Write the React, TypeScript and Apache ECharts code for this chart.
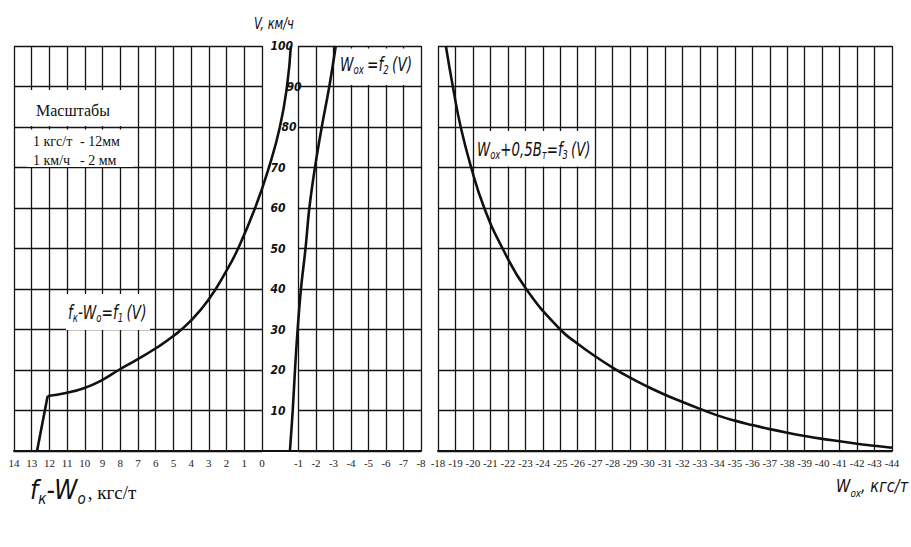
import React, { useEffect, useRef } from "react";
import * as echarts from "echarts";

// ---- data ----
// f_к − W_o = f1(V)  : [f_к − W_o (кгс/т), V (км/ч)]
const f1Steep: [number, number][] = [
  [12.7, 0],
  [12.1, 13.6],
];
const f1Curve: [number, number][] = [
  [12.1, 13.6], [11.07, 14.3], [10.06, 15.5], [9.16, 17.2], [8.09, 20.0],
  [7.08, 22.5], [6.13, 25.0], [5.06, 28.2], [4.1, 31.8], [3.04, 37.2],
  [2.02, 44.4], [1.35, 50], [0.39, 60], [-0.39, 70], [-1.01, 80],
  [-1.41, 90], [-1.63, 100],
];
// W_ox = f2(V)
const f2Line: [number, number][] = [
  [-0.51, 0], [-0.67, 10], [-0.8, 20], [-0.95, 30], [-1.14, 40], [-1.4, 50],
  [-1.62, 60], [-1.94, 70], [-2.33, 80], [-2.76, 90], [-3.13, 100],
];
// W_ox + 0,5 B_т = f3(V)
const f3Curve: [number, number][] = [
  [-18.45, 100], [-18.85, 90], [-19.3, 80], [-19.9, 70], [-20.65, 60],
  [-21.7, 50], [-23.05, 40], [-25, 30], [-26, 26.5], [-27, 23.4],
  [-28, 20.6], [-29, 18.1], [-30, 15.9], [-31, 13.9], [-32, 12.1],
  [-33, 10.4], [-34, 8.8], [-35, 7.5], [-36, 6.4], [-37, 5.4],
  [-38, 4.5], [-39, 3.7], [-40, 3.0], [-41, 2.4], [-42, 1.8],
  [-43, 1.3], [-44, 0.8],
];

// axis ranges
const leftRange = { min: 0, max: 14 };
const leftCurveRange = { min: -2, max: 14 };
const midRange = { min: -8, max: -1 };
const midCurveRange = { min: -8, max: 0 };
const rightRange = { min: -44, max: -18 };
const vRange = { min: 0, max: 100, step: 10 };

const SERIF = "'Liberation Serif', 'Times New Roman', serif";
const HAND = "'Liberation Sans Narrow', 'DejaVu Sans Condensed', 'Liberation Sans', sans-serif";
const INK = "#111";

const hand = (size: number) => ({
  m: { fontFamily: HAND, fontStyle: "italic", fontSize: size, lineHeight: size + 6, verticalAlign: "middle", fill: INK },
  s: { fontFamily: HAND, fontStyle: "italic", fontSize: Math.round(size * 0.62), lineHeight: Math.round(size * 0.62), verticalAlign: "bottom", fill: INK },
  g: { fontFamily: HAND, fontStyle: "italic", fontSize: size, lineHeight: size + 6, verticalAlign: "middle", fill: INK, padding: [0, 0, 0, 4] },
  r: { fontFamily: SERIF, fontSize: size - 1, lineHeight: size + 6, verticalAlign: "middle", fill: INK, padding: [0, 0, 0, 4] },
});

export default function App() {
  const ref = useRef<HTMLDivElement>(null);

  useEffect(() => {
    document.body.style.margin = "0";
    const chart = echarts.init(ref.current!, null, { renderer: "svg" });

    const gridLine = { show: true, lineStyle: { color: "#141414", width: 1.3 } };
    const xLabel = { fontFamily: SERIF, fontSize: 11, color: "#222", margin: 6 };
    const mkX = (gridIndex: number, r: { min: number; max: number }) => ({
      type: "value",
      gridIndex,
      min: r.min,
      max: r.max,
      interval: 1,
      inverse: true,
      axisLine: { show: true, lineStyle: { color: INK, width: 2 } },
      axisTick: { show: false },
      axisLabel: xLabel,
      splitLine: gridLine,
    });
    const mkHiddenX = (gridIndex: number, r: { min: number; max: number }) => ({
      type: "value",
      gridIndex,
      min: r.min,
      max: r.max,
      interval: 1,
      inverse: true,
      show: false,
      splitLine: { show: false },
    });
    const mkY = (gridIndex: number, labels: boolean, hidden = false) => ({
      type: "value",
      gridIndex,
      min: vRange.min,
      max: vRange.max,
      interval: vRange.step,
      show: !hidden,
      axisLine: { show: false },
      axisTick: { show: false },
      splitLine: hidden ? { show: false } : gridLine,
      axisLabel: labels
        ? {
            show: true,
            margin: 28,
            align: "left",
            formatter: (v: number) =>
              v === 0 ? "" : v === 90 ? `{a|${v}}` : v === 80 ? `{b|${v}}` : `{n|${v}}`,
            rich: {
              n: { fontFamily: HAND, fontStyle: "italic", fontWeight: "bold", fontSize: 12, color: INK },
              a: { fontFamily: HAND, fontStyle: "italic", fontWeight: "bold", fontSize: 12, color: INK, padding: [0, 0, 0, 16] },
              b: { fontFamily: HAND, fontStyle: "italic", fontWeight: "bold", fontSize: 12, color: INK, padding: [0, 0, 0, 11] },
            },
          }
        : { show: false },
    });

    const lineStyle = { color: INK, width: 2.6 };
    const base = { type: "line", symbol: "none", showSymbol: false, lineStyle, silent: true };

    const unitL = 248 / 14;
    const unitM = 122.5 / 7;

    chart.setOption({
      animation: false,
      backgroundColor: "#fff",
      grid: [
        { left: 14, top: 46, width: 248, height: 405 },
        { left: 298.5, top: 46, width: 122.5, height: 405 },
        { left: 438, top: 46, width: 454, height: 405 },
        // invisible grids that carry the curves crossing the panel edges
        { left: 14, top: 46, width: unitL * 16, height: 405 },
        { left: 298.5 - unitM, top: 46, width: unitM * 8, height: 405 },
      ],
      xAxis: [
        mkX(0, leftRange),
        mkX(1, midRange),
        mkX(2, rightRange),
        mkHiddenX(3, leftCurveRange),
        mkHiddenX(4, midCurveRange),
      ],
      yAxis: [mkY(0, false), mkY(1, true), mkY(2, false), mkY(3, false, true), mkY(4, false, true)],
      series: [
        { ...base, xAxisIndex: 3, yAxisIndex: 3, data: f1Steep },
        { ...base, xAxisIndex: 3, yAxisIndex: 3, data: f1Curve, smooth: 0.5 },
        { ...base, xAxisIndex: 4, yAxisIndex: 4, data: f2Line, smooth: 0.4 },
        { ...base, xAxisIndex: 2, yAxisIndex: 2, data: f3Curve, smooth: 0.5 },
      ],
      graphic: [
        // bottom line joining left and middle panels
        { type: "line", z: 5, shape: { x1: 262, y1: 451, x2: 298.5, y2: 451 }, style: { stroke: INK, lineWidth: 2 } },
        // V axis title
        {
          type: "text", x: 254, y: 24, z: 20, scaleX: 0.85,
          style: { text: "V, км/ч", fontFamily: HAND, fontStyle: "italic", fontSize: 15, fill: INK, align: "left", verticalAlign: "middle" },
        },
        // scale box
        { type: "rect", z: 10, shape: { x: 27, y: 90, width: 106, height: 36 }, style: { fill: "#fff" } },
        { type: "rect", z: 10, shape: { x: 27, y: 129.5, width: 106, height: 37.5 }, style: { fill: "#fff" } },
        { type: "text", x: 36, y: 110, z: 20, style: { text: "Масштабы", fontFamily: SERIF, fontSize: 16, fill: INK, verticalAlign: "middle" } },
        { type: "text", x: 33, y: 141, z: 20, style: { text: "1 кгс/т", fontFamily: SERIF, fontSize: 14, fill: INK, verticalAlign: "middle" } },
        { type: "text", x: 80, y: 141, z: 20, style: { text: "- 12мм", fontFamily: SERIF, fontSize: 14, fill: INK, verticalAlign: "middle" } },
        { type: "text", x: 33, y: 160, z: 20, style: { text: "1 км/ч", fontFamily: SERIF, fontSize: 14, fill: INK, verticalAlign: "middle" } },
        { type: "text", x: 80, y: 160, z: 20, style: { text: "- 2 мм", fontFamily: SERIF, fontSize: 14, fill: INK, verticalAlign: "middle" } },
        // f1 label
        { type: "rect", z: 10, shape: { x: 66, y: 294, width: 84, height: 36 }, style: { fill: "#fff" } },
        {
          type: "text", x: 68, y: 312, z: 20, scaleX: 0.8,
          style: { text: "{m|f}{s|к}{m|-W}{s|o}{m|=f}{s|1}{g|(V)}", rich: hand(19), verticalAlign: "middle" },
        },
        // f2 label
        { type: "rect", z: 10, shape: { x: 338, y: 48.5, width: 81.5, height: 36.5 }, style: { fill: "#fff" } },
        {
          type: "text", x: 340, y: 64, z: 20, scaleX: 0.8,
          style: { text: "{m|W}{s|ox}{g|=f}{s|2}{g|(V)}", rich: hand(19), verticalAlign: "middle" },
        },
        // f3 label
        { type: "rect", z: 10, shape: { x: 476, y: 131, width: 114, height: 35.5 }, style: { fill: "#fff" } },
        {
          type: "text", x: 477, y: 149, z: 20, scaleX: 0.78,
          style: { text: "{m|W}{s|ox}{m|+0,5B}{s|т}{m|=f}{s|3}{g|(V)}", rich: hand(19), verticalAlign: "middle" },
        },
        // axis titles
        {
          type: "text", x: 30, y: 490, z: 20,
          style: {
            text: "{m|f}{s|к}{m|-W}{s|o}{r|, кгс/т}",
            rich: {
              ...hand(26),
              s: { fontFamily: HAND, fontStyle: "italic", fontSize: 15, lineHeight: 15, verticalAlign: "bottom", fill: INK },
              r: { fontFamily: SERIF, fontSize: 19, lineHeight: 32, verticalAlign: "middle", fill: INK, padding: [5, 0, 0, 2] },
            },
            verticalAlign: "middle",
          },
        },
        {
          type: "text", x: 836, y: 486, z: 20, scaleX: 0.9,
          style: {
            text: "{m|W}{s|ox}{m|, кгс/т}",
            rich: hand(18),
            align: "left",
            verticalAlign: "middle",
          },
        },
      ],
    });

    return () => chart.dispose();
  }, []);

  return <div ref={ref} style={{ width: 911, height: 547 }} />;
}
